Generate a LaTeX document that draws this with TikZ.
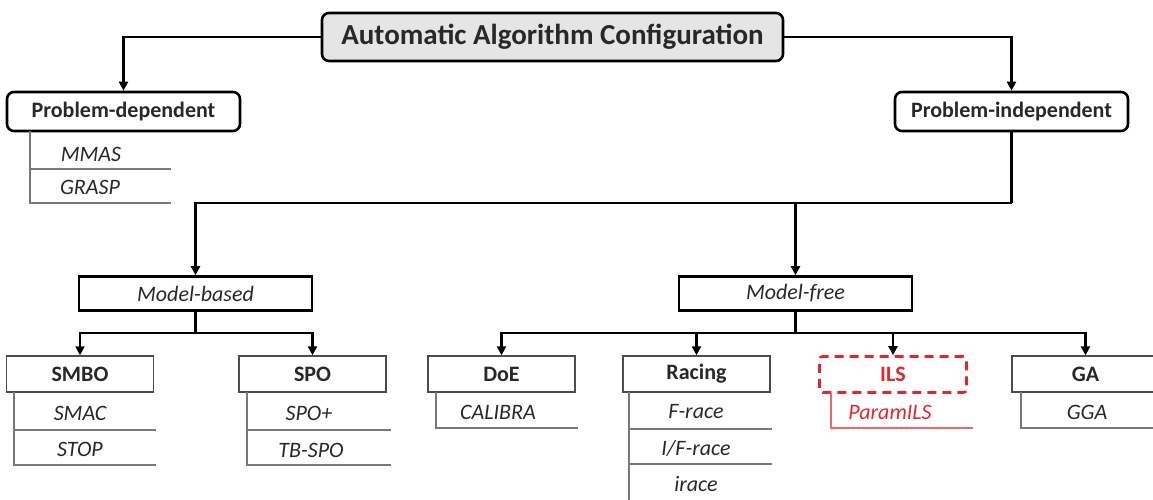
\documentclass[tikz,border=0pt]{standalone}
\usepackage{fontspec}
\setmainfont{Carlito}
\usetikzlibrary{arrows.meta}
\definecolor{ilsred}{RGB}{228,38,42}
\definecolor{subgray}{RGB}{120,120,120}
\definecolor{txt}{RGB}{40,40,40}
\begin{document}
\begin{tikzpicture}[x=1pt,y=-1pt,
  conn/.style={line width=2.6pt,-{Triangle[length=9pt,width=9pt]}},
  trunk/.style={line width=2.6pt},
  rootbox/.style={draw,line width=2.6pt,rounded corners=7pt,fill=black!10,
    minimum width=461pt,minimum height=48pt,inner sep=0pt,
    font=\fontsize{29}{34}\selectfont\bfseries,text=txt},
  topbox/.style={draw,line width=2.6pt,rounded corners=7pt,fill=white,
    minimum width=233pt,minimum height=39pt,inner sep=0pt,
    font=\fontsize{22}{26}\selectfont\bfseries,text=txt},
  midbox/.style={draw,line width=2.6pt,fill=white,
    minimum width=233pt,minimum height=34pt,inner sep=0pt,
    font=\fontsize{22}{26}\selectfont\itshape,text=txt},
  leafbox/.style={draw=black!70,line width=1.4pt,fill=white,
    minimum width=147pt,minimum height=36pt,inner sep=0pt,
    font=\fontsize{22}{26}\selectfont\bfseries,text=txt},
  ilsbox/.style={draw=ilsred,dashed,dash pattern=on 9pt off 6pt,line width=2.6pt,
    rounded corners=3pt,minimum width=147pt,minimum height=36pt,inner sep=0pt,
    font=\fontsize{22}{26}\selectfont\bfseries,text=ilsred},
  item/.style={font=\fontsize{22}{26}\selectfont\itshape,text=txt,inner sep=0pt},
  rule/.style={draw=subgray,line width=1.3pt},
  redrule/.style={draw=ilsred!70,line width=1.3pt}
]
\useasboundingbox (0,0) rectangle (1153,500);

% main boxes
\node[rootbox] (root) at (552.5,37) {Automatic Algorithm Configuration};
\node[topbox] (pdep) at (123.5,111.5) {Problem-dependent};
\node[topbox] (pind) at (1011.5,111.5) {Problem-independent};
\node[midbox] (mbased) at (195.5,293.5) {Model-based};
\node[midbox] (mfree) at (795.5,293.5) {Model-free};
\node[leafbox] (smbo) at (80,374) {SMBO};
\node[leafbox] (spo) at (312.5,374) {SPO};
\node[leafbox] (doe) at (501.5,374) {DoE};
\node[leafbox] (racing) at (696.5,374) {Racing};
\node[ilsbox] (ils) at (893,374.5) {ILS};
\node[leafbox] (ga) at (1085.5,374) {GA};

% connectors
\draw[conn] (root.west) -| (pdep.north);
\draw[conn] (root.east) -| (pind.north);
\coordinate (j1) at (1011.5,203);
\coordinate (j1m) at (795.5,203);
\draw[trunk] (pind.south) -- (j1);
\draw[conn] (j1) -| (mbased.north);
\draw[conn] (j1m) -- (mfree.north);
\coordinate (j2) at (195.5,333);
\draw[trunk] (mbased.south) -- (j2);
\draw[conn] (j2) -| (smbo.north);
\draw[conn] (j2) -| (spo.north);
\coordinate (j3) at (795.5,333);
\draw[trunk] (mfree.south) -- (j3);
\draw[conn] (j3) -| (doe.north);
\draw[conn] (j3) -| (racing.north);
\draw[conn] (j3) -| (ils.north);
\draw[conn] (j3) -| (ga.north);

% instance lists
\draw[rule] (30,131) -- (30,203) -- (171,203) (30,169) -- (171,169);
\node[item] (mmas) at (91,154) {MMAS};
\node[item] (grasp) at (90,187) {GRASP};

\draw[rule] (14,392) -- (14,465) -- (156,465) (14,430) -- (156,430);
\node[item] (smac) at (80,413) {SMAC};
\node[item] (stop) at (80,449) {STOP};

\draw[rule] (247,392) -- (247,465) -- (391,465) (247,430) -- (391,430);
\node[item] (spoplus) at (309,413) {SPO+};
\node[item] (tbspo) at (311,450) {TB-SPO};

\draw[rule] (436,392) -- (436,428) -- (578,428);
\node[item] (calibra) at (498,412) {CALIBRA};

\draw[rule] (629,392) -- (629,500) (629,429) -- (772,429) (629,464) -- (772,464);
\node[item] (frace) at (696,412) {F-race};
\node[item] (ifrace) at (696,448) {I/F-race};
\node[item] (irace) at (696,484) {irace};

\draw[redrule] (831,393) -- (831,428) -- (973,428);
\node[item,text=ilsred] (paramils) at (890,412) {ParamILS};

\draw[rule] (1021,392) -- (1021,428) -- (1153,428);
\node[item] (gga) at (1087,412) {GGA};
\end{tikzpicture}
\end{document}
